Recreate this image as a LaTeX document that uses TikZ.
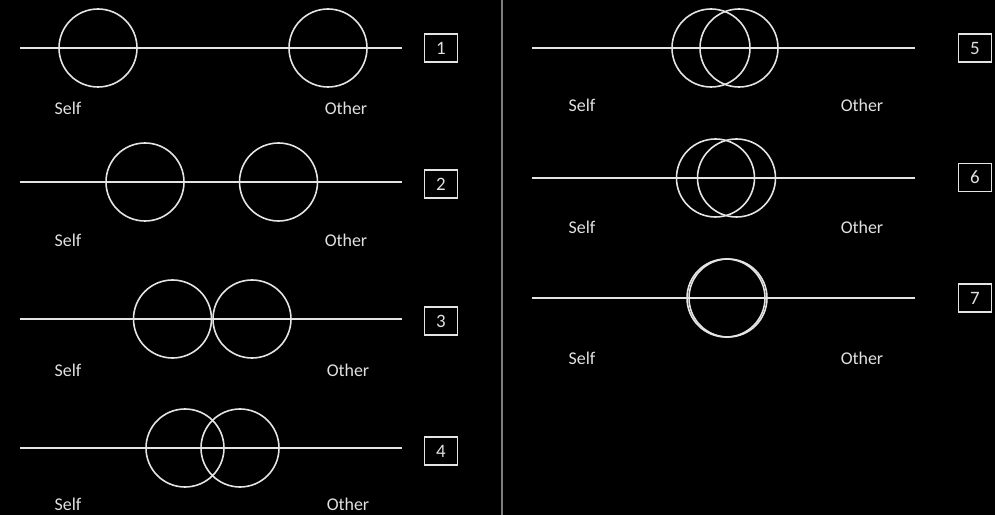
\documentclass[tikz,border=0pt]{standalone}
\usepackage{fontspec}
\setmainfont{Carlito}
\definecolor{linegray}{RGB}{228,228,228}
\definecolor{labelgray}{RGB}{225,225,225}
\definecolor{divgray}{RGB}{125,125,125}
\begin{document}
\begin{tikzpicture}[x=1bp,y=-1bp,
  axis/.style={draw=linegray, line width=1.7bp},
  ring/.style={draw=linegray, line width=1.6bp, circle, minimum size=78bp, inner sep=0pt},
  lbl/.style={text=labelgray, font=\fontsize{18}{21}\selectfont, inner sep=0pt},
  numbox/.style={draw=linegray, line width=1.2bp, minimum width=33bp, minimum height=28bp, inner sep=0pt, text=labelgray, font=\fontsize{19}{22}\selectfont}]
\fill[black] (0,0) rectangle (995,515);
\useasboundingbox (0,0) rectangle (995,515);
% divider
\coordinate (dtop) at (502,0);
\coordinate (dbot) at (502,515);
\draw[divgray, line width=1.3bp] (dtop) -- (dbot);
% left column panels
\foreach \n/\y/\a/\b/\by/\ly/\ox in {1/48/98/328/48/108/346, 2/182/145/278.5/184/240/346, 3/319/172.5/252/321/370/348, 4/448/185/240/451/504/348}{
  \coordinate (L\n) at (20,\y);
  \coordinate (R\n) at (402,\y);
  \draw[axis] (L\n) -- (R\n);
  \node[ring] (self\n) at (\a,\y) {};
  \node[ring] (other\n) at (\b,\y) {};
  \node[numbox] (box\n) at (441,\by) {\n};
  \node[lbl] (ls\n) at (68,\ly) {Self};
  \node[lbl] (lo\n) at (\ox,\ly) {Other};
}
% right column panels
\foreach \n/\y/\a/\b/\by/\ly in {5/48/711/739/48/105, 6/178/715.5/736.5/177.5/227, 7/298/726/728/298/358}{
  \coordinate (L\n) at (532,\y);
  \coordinate (R\n) at (915,\y);
  \draw[axis] (L\n) -- (R\n);
  \node[ring] (self\n) at (\a,\y) {};
  \node[ring] (other\n) at (\b,\y) {};
  \node[numbox] (box\n) at (975,\by) {\n};
  \node[lbl] (ls\n) at (582,\ly) {Self};
  \node[lbl] (lo\n) at (862,\ly) {Other};
}
\end{tikzpicture}
\end{document}
